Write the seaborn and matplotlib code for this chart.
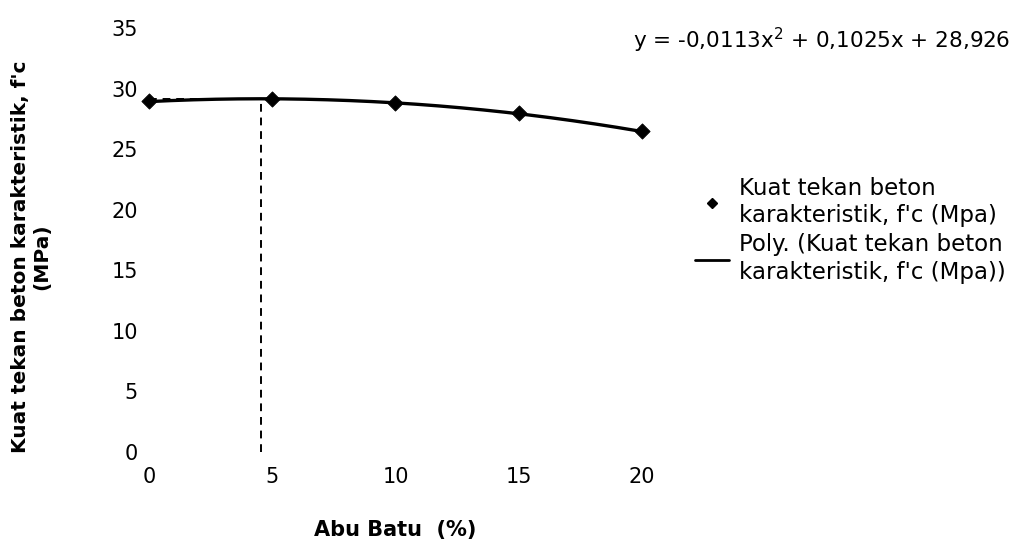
import numpy as np
import pandas as pd
import matplotlib
matplotlib.use("Agg")
import matplotlib.pyplot as plt
import seaborn as sns
from matplotlib.lines import Line2D

# ---- data ----
abu_batu = [0, 5, 10, 15, 20]
kuat_tekan = [28.95, 29.15, 28.8, 27.95, 26.5]
trend_coef = [-0.0113, 0.1025, 28.926]   # Excel polynomial trendline (printed on chart)
x_ticks = [0, 5, 10, 15, 20]
y_ticks = [0, 5, 10, 15, 20, 25, 30, 35]

sns.set_theme(style="white")
plt.rcParams['font.family'] = ['DejaVu Sans']
plt.rcParams['text.color'] = 'black'
plt.rcParams['axes.labelcolor'] = 'black'

fig = plt.figure(figsize=(10.26, 5.45), dpi=100)
ax = fig.add_axes([0.1452, 0.1706, 0.6257 - 0.1452, 0.9486 - 0.1706])

df = pd.DataFrame({"x": abu_batu, "y": kuat_tekan})
xs = np.linspace(min(abu_batu), max(abu_batu), 200)
poly = np.poly1d(trend_coef)
df_fit = pd.DataFrame({"x": xs, "y": poly(xs)})

# vertex of the trend curve (max) -> dashed guide lines
x_v = -trend_coef[1] / (2 * trend_coef[0])
y_v = poly(x_v)
ax.plot([x_v, x_v], [0, y_v], color="black", lw=1.4, ls=(0, (4, 3)), zorder=1)
ax.plot([0, x_v], [y_v, y_v], color="black", lw=1.4, ls=(0, (4, 3)), zorder=1)

sns.lineplot(data=df_fit, x="x", y="y", ax=ax, color="black", lw=2.4, zorder=2)
sns.scatterplot(data=df, x="x", y="y", ax=ax, marker="D", s=60, color="black",
                edgecolor="black", zorder=3, clip_on=False)

ax.set_xlim(0, 20)
ax.set_ylim(0, 35)
ax.set_xticks(x_ticks)
ax.set_yticks(y_ticks)
ax.tick_params(axis="both", labelsize=15, colors="black", length=0)
ax.tick_params(axis="x", pad=11)
ax.tick_params(axis="y", pad=8)
for s in ax.spines.values():
    s.set_visible(False)

ax.set_xlabel("Abu Batu  (%)", fontsize=15, fontweight="bold", va="center")
ax.xaxis.set_label_coords(0.5, -0.184)
ax.set_ylabel("Kuat tekan beton karakteristik, f'c\n(MPa)", fontsize=14.5,
              fontweight="bold", linespacing=1.15, va="center")
ax.yaxis.set_label_coords(-0.239, 0.46)

fig.text(0.985, 0.926, "y = -0,0113x$^{2}$ + 0,1025x + 28,926", ha="right", va="center",
         fontsize=15.5)

handles = [Line2D([], [], marker="D", color="black", ls="none", markersize=5.5),
           Line2D([], [], color="black", lw=2)]
labels = ["Kuat tekan beton\nkarakteristik, f'c (Mpa)",
          "Poly. (Kuat tekan beton\nkarakteristik, f'c (Mpa))"]
leg = fig.legend(handles, labels, loc="upper left", bbox_to_anchor=(0.677, 0.676),
                 frameon=False, fontsize=16.5, handlelength=1.5, handletextpad=0.45,
                 labelspacing=0.28, borderaxespad=0, borderpad=0, handleheight=0.7)
for t in leg.get_texts():
    t.set_linespacing(1.25)

fig.savefig("out.png", dpi=100)
